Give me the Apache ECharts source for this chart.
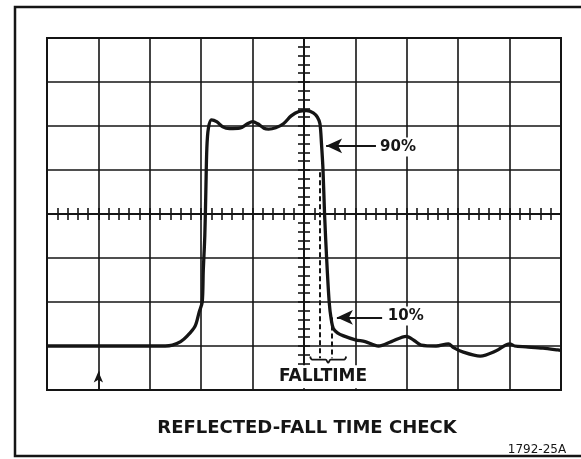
<!DOCTYPE html>
<html>
<head>
	<meta charset="utf-8" />
	<title>Reflected-fall time check</title>
	<style type="text/css">
		html, body {
			margin: 0;
			padding: 0;
			background: #fff;
		}

		#main {
			width: 581px;
			height: 459px;
		}
	</style>
	<script src="https://cdn.jsdelivr.net/npm/echarts@6.0.0/dist/echarts.min.js"></script>
</head>
<body>

	<div id="main"></div>

	<script type="text/javascript">

		// graticule divisions, counted from the centre of the screen
		const traceX = [-5, -4, -3, -2.7, -2.56, -2.4, -2.27, -2.12, -2.04, -1.98, -1.96, -1.93,
			-1.91, -1.89, -1.86, -1.8, -1.7, -1.58, -1.45, -1.25, -1.1, -1.0, -0.9, -0.78,
			-0.69, -0.55, -0.4, -0.25, -0.1, 0.05, 0.18, 0.26, 0.31, 0.34, 0.37, 0.40,
			0.44, 0.49, 0.53, 0.57, 0.65, 0.77, 1.0, 1.19, 1.45, 1.7, 1.99, 2.15, 2.28,
			2.57, 2.81, 2.9, 3.1, 3.43, 3.74, 4.0, 4.1, 4.32, 4.65, 4.94, 5];
		const traceY = [-3.0, -3.0, -3.0, -3.0, -2.98, -2.9, -2.77, -2.55, -2.23, -2.0, -1.3, -0.5,
			0.5, 1.5, 1.95, 2.14, 2.1, 1.98, 1.94, 1.95, 2.05, 2.1, 2.05, 1.95,
			1.93, 1.96, 2.05, 2.23, 2.33, 2.35, 2.3, 2.2, 2.05, 1.6, 1.0, 0.0,
			-1.0, -2.0, -2.4, -2.6, -2.7, -2.77, -2.86, -2.9, -3.0, -2.9, -2.78, -2.88, -2.98,
			-3.0, -2.95, -3.03, -3.14, -3.23, -3.11, -2.95, -3.0, -3.02, -3.05, -3.09, -3.1];

		// dashed fall time markers
		const dashX = [0.3, 0.54];
		const dashTop = [0.95, -2.35];
		const dashBottom = -3.28;

		// the brace under them
		const braceX = [0.12, 0.16, 0.42, 0.47, 0.52, 0.78, 0.82];
		const braceY = [-3.24, -3.31, -3.31, -3.38, -3.31, -3.31, -3.24];

		// arrows: [from x, to x, level]
		const level90 = [1.4, 0.43, 1.55];
		const level10 = [1.52, 0.64, -2.35];
		const triggerArrow = [-4, -4, -3.58];

		const noteText = ['90%', '10%', 'FALLTIME'];
		const noteX = [1.83, 1.98, 0.37];
		const noteY = [1.52, -2.32, -3.7];

		const ink = '#151515';

		const centreAxis = (dim, pos, grid) => ({
			type: 'value',
			position: pos,
			min: dim === 'x' ? -5 : -4,
			max: dim === 'x' ? 5 : 4,
			interval: 1,
			axisLine: { show: true, onZero: true, onZeroAxisIndex: 0, lineStyle: { color: ink, width: 2 } },
			axisTick: { show: true, length: 6, lineStyle: { color: ink, width: 1.6 } },
			minorTick: { show: true, splitNumber: 5, length: 6, lineStyle: { color: ink, width: 1.6 } },
			axisLabel: { show: false },
			splitLine: { show: grid, lineStyle: { color: ink, width: 1.6 } }
		});

		const notes = noteText.map((t, i) => ({
			value: [noteX[i], noteY[i]],
			label: {
				formatter: t,
				padding: t === 'FALLTIME' ? [4, 3, 2, 3] : [2, 3],
				fontSize: t === 'FALLTIME' ? 17 : 15
			}
		}));

		const options = {
			animation: false,
			grid: {
				left: 47,
				top: 38,
				width: 514,
				height: 352,
				show: true,
				borderColor: ink,
				borderWidth: 2,
				outerBoundsMode: 'none'
			},
			xAxis: [centreAxis('x', 'bottom', true), centreAxis('x', 'top', false)],
			yAxis: [centreAxis('y', 'left', true), centreAxis('y', 'right', false)],
			graphic: [
				{
					type: 'rect',
					shape: { x: 15, y: 7, width: 620, height: 449 },
					style: { fill: 'none', stroke: ink, lineWidth: 2.5 },
					silent: true
				},
				{
					type: 'text',
					x: 307, y: 428,
					style: {
						text: 'REFLECTED-FALL TIME CHECK',
						font: 'bold 18px "DejaVu Sans", sans-serif',
						fill: ink,
						align: 'center',
						verticalAlign: 'middle'
					}
				},
				{
					type: 'text',
					x: 537, y: 450,
					style: {
						text: '1792-25A',
						font: '12px "DejaVu Sans", sans-serif',
						fill: ink,
						align: 'center',
						verticalAlign: 'middle'
					}
				}
			],
			series: [
				{
					name: 'trace',
					type: 'line',
					data: traceX.map((x, i) => [x, traceY[i]]),
					smooth: 0.3,
					symbol: 'none',
					lineStyle: { color: ink, width: 3.3 },
					z: 5,
					markLine: {
						silent: true,
						symbol: ['none', 'arrow'],
						symbolSize: [11, 16],
						label: { show: false },
						lineStyle: { color: ink, width: 2, type: 'solid' },
						data: [
							[{ coord: [level90[0], level90[2]] }, { coord: [level90[1], level90[2]] }],
							[{ coord: [level10[0], level10[2]] }, { coord: [level10[1], level10[2]] }],
							[
								{ coord: [triggerArrow[0], -4], lineStyle: { width: 1.5 } },
								{ coord: [triggerArrow[1], triggerArrow[2]], symbolSize: [7, 11] }
							]
						]
					}
				},
				{
					name: 'falltime',
					type: 'line',
					data: [],
					markLine: {
						silent: true,
						symbol: 'none',
						label: { show: false },
						lineStyle: { color: ink, width: 2, type: [5, 3] },
						data: dashX.map((x, i) => [{ coord: [x, dashTop[i]] }, { coord: [x, dashBottom] }])
					}
				},
				{
					name: 'brace',
					type: 'line',
					data: braceX.map((x, i) => [x, braceY[i]]),
					smooth: 0.4,
					symbol: 'none',
					lineStyle: { color: ink, width: 1.8 }
				},
				{
					name: 'notes',
					type: 'scatter',
					data: notes,
					symbolSize: 0,
					itemStyle: { color: ink, opacity: 1 },
					z: 6,
					label: {
						show: true,
						position: 'inside',
						color: ink,
						opacity: 1,
						textBorderWidth: 0,
						textBorderColor: 'transparent',
						fontWeight: 'bold',
						fontFamily: '"DejaVu Sans", sans-serif',
						backgroundColor: '#fff'
					}
				}
			]
		};

		const myChart = echarts.init(document.getElementById('main'));
		myChart.setOption(options);

	</script>
</body>
</html>
